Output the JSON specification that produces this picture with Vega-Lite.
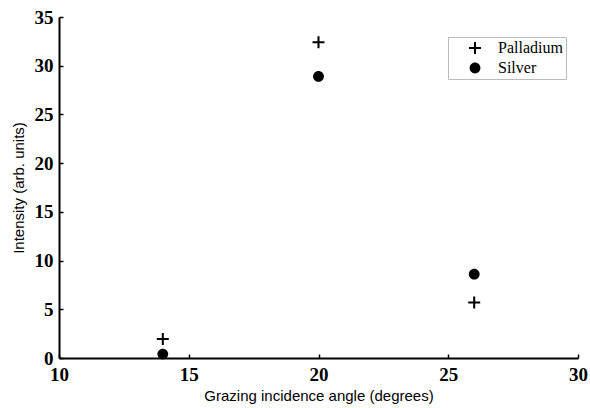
{
  "$schema": "https://vega.github.io/schema/vega-lite/v6.json",
  "width": 519,
  "height": 341,
  "autosize": "none",
  "padding": {"left": 59, "top": 17, "right": 12, "bottom": 50},
  "background": "white",
  "data": {
    "values": [
      {"angle": 14, "intensity": 1.95, "metal": "Palladium"},
      {"angle": 20, "intensity": 32.4, "metal": "Palladium"},
      {"angle": 26, "intensity": 5.7, "metal": "Palladium"},
      {"angle": 14, "intensity": 0.4, "metal": "Silver"},
      {"angle": 20, "intensity": 28.9, "metal": "Silver"},
      {"angle": 26, "intensity": 8.6, "metal": "Silver"}
    ]
  },
  "mark": {"type": "point", "filled": true, "fill": "black", "strokeWidth": 0, "size": 144, "opacity": 1},
  "encoding": {
    "x": {
      "field": "angle", "type": "quantitative",
      "scale": {"domain": [10, 30], "nice": false, "zero": false},
      "axis": {"values": [10, 15, 20, 25, 30], "title": "Grazing incidence angle (degrees)", "titlePadding": 4, "labelPadding": 11}
    },
    "y": {
      "field": "intensity", "type": "quantitative",
      "scale": {"domain": [0, 35], "nice": false},
      "axis": {"values": [0, 5, 10, 15, 20, 25, 30, 35], "title": "Intensity (arb. units)", "titlePadding": 8, "labelPadding": 10}
    },
    "shape": {
      "field": "metal", "type": "nominal",
      "scale": {"domain": ["Palladium", "Silver"], "range": ["M-1,-0.17H-0.17V-1H0.17V-0.17H1V0.17H0.17V1H-0.17V0.17H-1Z", "M-0.9,0A0.9,0.9 0 1,0 0.9,0A0.9,0.9 0 1,0 -0.9,0Z"]},
      "legend": {
        "title": null,
        "orient": "none",
        "legendX": 389,
        "legendY": 20,
        "padding": 3,
        "strokeColor": "#bbbbbb",
        "fillColor": "white",
        "symbolSize": 144,
        "symbolStrokeWidth": 0,
        "symbolFillColor": "black",
        "symbolOffset": 16,
        "labelFont": "Liberation Serif",
        "labelFontSize": 16,
        "labelColor": "black",
        "labelOffset": 15,
        "rowPadding": 4,
        "labelLimit": 200
      }
    }
  },
  "config": {
    "view": {"stroke": null},
    "axis": {
      "grid": false,
      "domainColor": "black",
      "domainWidth": 2,
      "tickColor": "black",
      "tickWidth": 1.5,
      "tickSize": -4,
      "labelFlush": false,
      "labelFont": "Liberation Serif",
      "labelFontWeight": "bold",
      "labelFontSize": 19,
      "labelColor": "black",
      "titleFont": "Liberation Sans",
      "titleFontWeight": "normal",
      "titleFontSize": 15,
      "titleColor": "black"
    }
  }
}
